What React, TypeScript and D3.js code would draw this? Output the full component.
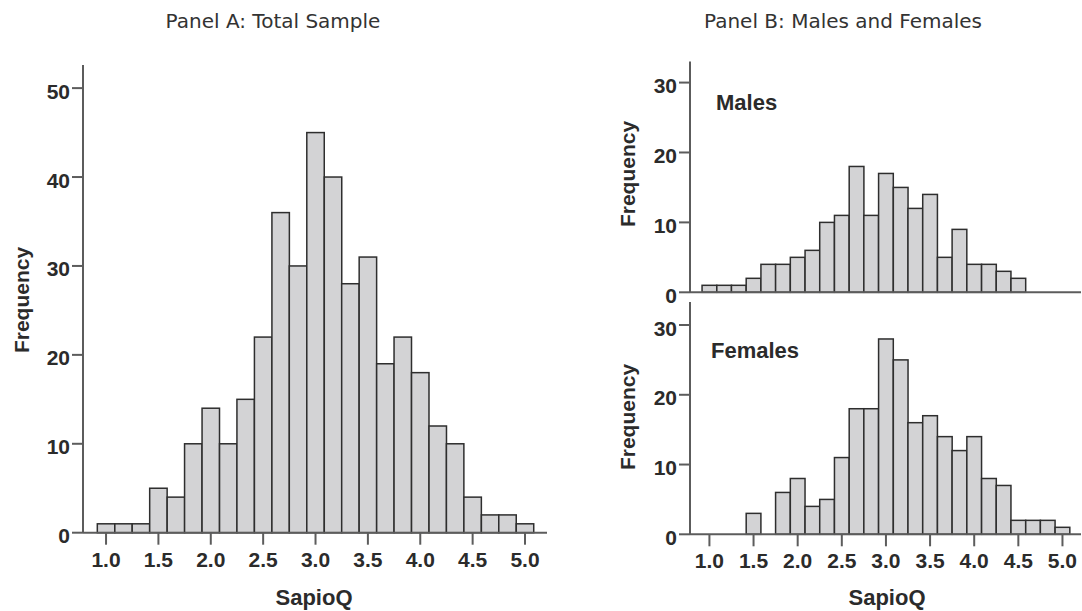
import React from 'react';
import * as d3 from 'd3';

// histogram bins (centres), width 1/6 of a SapioQ point
const binCenters = [1.0, 1.167, 1.333, 1.5, 1.667, 1.833, 2.0, 2.167, 2.333, 2.5, 2.667, 2.833, 3.0,
  3.167, 3.333, 3.5, 3.667, 3.833, 4.0, 4.167, 4.333, 4.5, 4.667, 4.833, 5.0];
const binWidth = 1 / 6;

const totalCounts = [1, 1, 1, 5, 4, 10, 14, 10, 15, 22, 36, 30, 45, 40, 28, 31, 19, 22, 18, 12, 10, 4, 2, 2, 1];
const maleCounts = [1, 1, 1, 2, 4, 4, 5, 6, 10, 11, 18, 11, 17, 15, 12, 14, 5, 9, 4, 4, 3, 2, 0, 0, 0];
const femaleCounts = [0, 0, 0, 3, 0, 6, 8, 4, 5, 11, 18, 18, 28, 25, 16, 17, 14, 12, 14, 8, 7, 2, 2, 2, 1];

const xTicks = [1.0, 1.5, 2.0, 2.5, 3.0, 3.5, 4.0, 4.5, 5.0];
const yTicksA = [0, 10, 20, 30, 40, 50];
const yTicksB = [0, 10, 20, 30];

const BOLD = '"Liberation Sans", Arial, Helvetica, sans-serif';
const TITLE_FONT = '"DejaVu Sans", Verdana, sans-serif';
const BAR_FILL = '#d3d3d5';
const BAR_STROKE = '#2e2e2e';
const AXIS = '#5c5c5c';
const TEXT = '#2b2b2b';

type HistProps = {
  counts: number[];
  left: number;
  right: number;
  top: number;
  bottom: number;
  yMax: number;
  yTicks: number[];
  showXTicks: boolean;
  ylabelX: number;
  ylabelY: number;
};

function Histogram(props: HistProps) {
  const { counts, left, right, top, bottom, yMax, yTicks, showXTicks, ylabelX, ylabelY } = props;
  const x = d3.scaleLinear().domain([0.78, 5.21]).range([left, right]);
  const y = d3.scaleLinear().domain([0, yMax]).range([bottom, top]);

  return (
    <g>
      {/* bars */}
      {counts.map((c, i) => {
        if (c === 0) return null;
        const x0 = x(binCenters[i] - binWidth / 2);
        const x1 = x(binCenters[i] + binWidth / 2);
        return (
          <rect key={i} x={x0} y={y(c)} width={x1 - x0} height={y(0) - y(c)}
            fill={BAR_FILL} stroke={BAR_STROKE} strokeWidth={1.5} />
        );
      })}

      {/* axes */}
      <line x1={left} x2={left} y1={top} y2={bottom} stroke={AXIS} strokeWidth={2} />
      <line x1={left} x2={right} y1={bottom} y2={bottom} stroke={AXIS} strokeWidth={2} />

      {yTicks.map(t => (
        <g key={'y' + t}>
          <line x1={left - 11} x2={left} y1={y(t)} y2={y(t)} stroke={AXIS} strokeWidth={2} />
          <text x={left - 13} y={y(t) + 10.5} textAnchor="end" fontFamily={BOLD} fontWeight="bold"
            fontSize={21} fill={TEXT}>{t}</text>
        </g>
      ))}

      {showXTicks && xTicks.map(t => (
        <g key={'x' + t}>
          <line x1={x(t)} x2={x(t)} y1={bottom} y2={bottom + 12} stroke={AXIS} strokeWidth={2} />
          <text x={x(t)} y={bottom + 34} textAnchor="middle" fontFamily={BOLD} fontWeight="bold"
            fontSize={21} fill={TEXT}>{t.toFixed(1)}</text>
        </g>
      ))}

      <text transform={`translate(${ylabelX},${ylabelY}) rotate(-90)`} textAnchor="middle"
        fontFamily={BOLD} fontWeight="bold" fontSize={21} fill={TEXT}>Frequency</text>
    </g>
  );
}

export default function App() {
  return (
    <svg width={1082} height={611} style={{ position: 'absolute', left: 0, top: 0, background: '#fff' }}>
      <text x={273} y={28} textAnchor="middle" fontFamily={TITLE_FONT} fontSize={20} fill="#333">
        Panel A: Total Sample
      </text>
      <text x={843} y={28} textAnchor="middle" fontFamily={TITLE_FONT} fontSize={20} fill="#333">
        Panel B: Males and Females
      </text>

      {/* Panel A */}
      <Histogram counts={totalCounts} left={83} right={547} top={65} bottom={532.7} yMax={52.6}
        yTicks={yTicksA} showXTicks={true} ylabelX={29} ylabelY={300} />
      <text x={314} y={605} textAnchor="middle" fontFamily={BOLD} fontWeight="bold" fontSize={22}
        fill={TEXT}>SapioQ</text>

      {/* Panel B - males */}
      <Histogram counts={maleCounts} left={690} right={1081} top={61.6} bottom={292.3} yMax={33}
        yTicks={yTicksB} showXTicks={false} ylabelX={634.5} ylabelY={174} />
      <text x={716} y={110} fontFamily={BOLD} fontWeight="bold" fontSize={22} fill={TEXT}>Males</text>

      {/* Panel B - females */}
      <Histogram counts={femaleCounts} left={690} right={1081} top={302} bottom={534.3} yMax={33.3}
        yTicks={yTicksB} showXTicks={true} ylabelX={634.5} ylabelY={417} />
      <text x={711} y={358} fontFamily={BOLD} fontWeight="bold" fontSize={22} fill={TEXT}>Females</text>
      <text x={887} y={605} textAnchor="middle" fontFamily={BOLD} fontWeight="bold" fontSize={22}
        fill={TEXT}>SapioQ</text>
    </svg>
  );
}
